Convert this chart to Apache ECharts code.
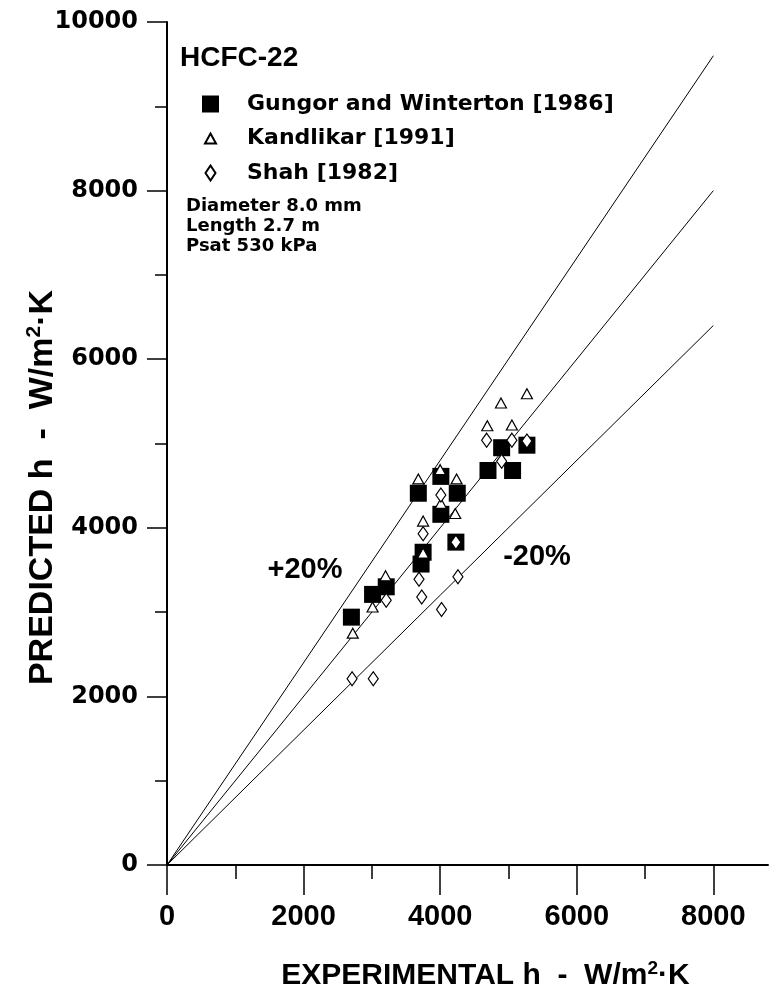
<!DOCTYPE html>
<html>
<head>
<meta charset="utf-8">
<script src="https://cdn.jsdelivr.net/npm/echarts@6/dist/echarts.min.js"></script>
<style>
html,body{margin:0;padding:0;background:#fff;}
#chart{width:769px;height:1002px;}
</style>
</head>
<body>
<div id="chart"></div>
<script>
// ---- data (experimental h, predicted h in W/m2K) ----
const gungorExp  = [2700, 3010, 3210, 3680, 3750, 3720, 4010, 4010, 4250, 4230, 4700, 5060, 4900, 5270];
const gungorPred = [2940, 3210, 3300, 4410, 3710, 3570, 4610, 4160, 4410, 3830, 4680, 4680, 4950, 4980];

const kandlikarExp  = [2720, 3010, 3200, 3750, 3750, 3680, 4010, 4000, 4240, 4220, 4690, 5050, 4890, 5270];
const kandlikarPred = [2750, 3060, 3430, 3700, 4080, 4580, 4290, 4690, 4580, 4170, 5210, 5220, 5480, 5590];

const shahExp  = [2710, 3020, 3210, 3690, 3730, 3750, 4020, 4010, 4230, 4260, 4680, 5050, 4900, 5270];
const shahPred = [2210, 2210, 3140, 3390, 3180, 3930, 3030, 4390, 3830, 3420, 5040, 5040, 4790, 5030];

// reference lines (+20 %, 0 %, -20 %)
const refLineX   = [0, 8000];
const plus20Y    = [0, 9600];
const equalY     = [0, 8000];
const minus20Y   = [0, 6400];

// ticks
const xMajorTicks = [0, 2000, 4000, 6000, 8000];
const xMinorTicks = [1000, 3000, 5000, 7000];
const yMajorTicks = [0, 2000, 4000, 6000, 8000, 10000];

const seriesNames = ['Gungor and Winterton [1986]', 'Kandlikar [1991]', 'Shah [1982]'];

const pairs = (xs, ys) => xs.map((x, i) => [x, ys[i]]);
const plainNum = (v) => String(v);

const chart = echarts.init(document.getElementById('chart'), null, {renderer: 'canvas'});

const lineStyleRef = {color: '#000', width: 1};
const refLine = (ys) => ({
  type: 'line', data: pairs(refLineX, ys), symbol: 'none', silent: true,
  lineStyle: lineStyleRef, z: 1, animation: false
});

const option = {
  animation: false,
  backgroundColor: '#fff',
  title: {
    text: 'HCFC-22',
    left: 180, top: 44, padding: 0,
    textStyle: {fontFamily: 'Liberation Sans', fontSize: 28, fontWeight: 'bold', color: '#000'}
  },
  legend: {
    orient: 'vertical',
    left: 201, top: 93, padding: 0,
    itemWidth: 40, itemHeight: 17, itemGap: 12.5,
    textStyle: {fontFamily: 'DejaVu Sans', fontWeight: 'bold', fontSize: 22, color: '#000'},
    selectedMode: false,
    data: [
      {name: seriesNames[0], icon: 'path://M40,17M0,0L17,0L17,17L0,17Z'},
      {name: seriesNames[1], icon: 'path://M40,17M0,0M8.5,3.5L14,13.5L3,13.5Z'},
      {name: seriesNames[2], icon: 'path://M40,17M0,0M8.5,1L13.5,8.5L8.5,16L3.5,8.5Z'}
    ]
  },
  grid: {left: 167, right: 1, top: 22, bottom: 137, containLabel: false, outerBoundsMode: 'none'},
  xAxis: [{
    type: 'value', min: 0, max: 8800, interval: 2000, position: 'bottom',
    axisLine: {show: true, onZero: false, lineStyle: {color: '#000', width: 2}},
    axisTick: {show: true, length: 30, customValues: xMajorTicks, lineStyle: {color: '#000', width: 1.5}},
    axisLabel: {
      customValues: xMajorTicks, margin: 37, color: '#000', formatter: plainNum,
      fontFamily: 'Liberation Sans', fontWeight: 'bold', fontSize: 29
    },
    splitLine: {show: false},
    name: '{t|EXPERIMENTAL h  -  W/m}{s|2}{t|·K}',
    nameLocation: 'middle', nameGap: 94,
    nameTextStyle: {
      padding: [0, 0, 0, 36],
      rich: {
        t: {fontFamily: 'Liberation Sans', fontWeight: 'bold', fontSize: 30, color: '#000', lineHeight: 34},
        s: {fontFamily: 'Liberation Sans', fontWeight: 'bold', fontSize: 19, color: '#000', verticalAlign: 'top', lineHeight: 34, padding: [0, 0, 8, 0]}
      }
    }
  }, {
    type: 'value', min: 0, max: 8800, position: 'bottom',
    axisLine: {show: false, onZero: false},
    axisTick: {show: true, length: 14, customValues: xMinorTicks, lineStyle: {color: '#000', width: 1.5}},
    axisLabel: {show: false},
    splitLine: {show: false}
  }],
  yAxis: [{
    type: 'value', min: 0, max: 10000, interval: 2000,
    axisLine: {show: true, onZero: false, lineStyle: {color: '#000', width: 2}},
    axisTick: {show: true, length: 20, lineStyle: {color: '#000', width: 1.5}},
    minorTick: {show: true, splitNumber: 2, length: 12, lineStyle: {color: '#000', width: 1.5}},
    axisLabel: {margin: 29, color: '#000', formatter: plainNum, fontFamily: 'DejaVu Sans', fontWeight: 'bold', fontSize: 24},
    splitLine: {show: false},
    minorSplitLine: {show: false},
    name: '{t|PREDICTED h  -  W/m}{s|2}{t|·K}',
    nameLocation: 'middle', nameGap: 105, nameRotate: 90, nameMoveOverlap: false,
    nameTextStyle: {
      padding: [0, 88, 0, 0],
      rich: {
        t: {fontFamily: 'Liberation Sans', fontWeight: 'bold', fontSize: 34, color: '#000', lineHeight: 38},
        s: {fontFamily: 'Liberation Sans', fontWeight: 'bold', fontSize: 21, color: '#000', verticalAlign: 'top', lineHeight: 38, padding: [0, 0, 8, 0]}
      }
    }
  }],
  graphic: [
    {type: 'text', left: 186, top: 196, z: 10,
     style: {text: 'Diameter 8.0 mm\nLength 2.7 m\nPsat 530 kPa', font: 'bold 18px "DejaVu Sans"', lineHeight: 20, fill: '#000'}},
    {type: 'text', x: 305, y: 570, z: 10,
     style: {text: '+20%', font: 'bold 29px "Liberation Sans"', fill: '#000', align: 'center', verticalAlign: 'middle'}},
    {type: 'text', x: 537, y: 557, z: 10,
     style: {text: '-20%', font: 'bold 29px "Liberation Sans"', fill: '#000', align: 'center', verticalAlign: 'middle'}}
  ],
  series: [
    refLine(plus20Y),
    refLine(equalY),
    refLine(minus20Y),
    {
      name: seriesNames[0], type: 'scatter', data: pairs(gungorExp, gungorPred),
      symbol: 'rect', symbolSize: 17, z: 3,
      itemStyle: {color: '#000', borderColor: '#000', borderWidth: 0, opacity: 1}
    },
    {
      name: seriesNames[1], type: 'scatter', data: pairs(kandlikarExp, kandlikarPred),
      symbol: 'triangle', symbolSize: [11, 10], z: 4,
      itemStyle: {color: '#fff', borderColor: '#000', borderWidth: 1.2, opacity: 1}
    },
    {
      name: seriesNames[2], type: 'scatter', data: pairs(shahExp, shahPred),
      symbol: 'diamond', symbolSize: [10, 14], z: 5,
      itemStyle: {color: '#fff', borderColor: '#000', borderWidth: 1.2, opacity: 1}
    }
  ]
};

chart.setOption(option);
</script>
</body>
</html>
